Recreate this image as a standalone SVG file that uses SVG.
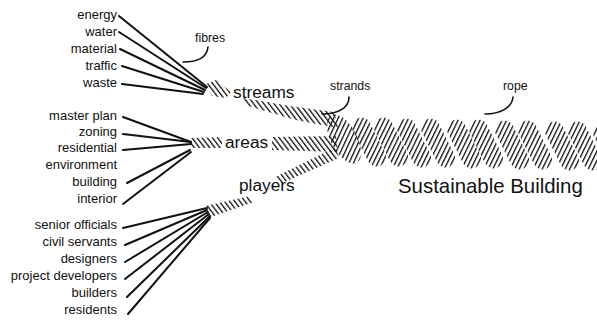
<svg xmlns="http://www.w3.org/2000/svg" width="597" height="320" viewBox="0 0 597 320">
  <style>
    .lbl { font-family: "Liberation Sans", Arial, Helvetica, sans-serif; font-size: 13px; fill: #111; text-anchor: end; }
    .grp { font-family: "Liberation Sans", Arial, Helvetica, sans-serif; font-size: 17.3px; fill: #111; }
    .note { font-family: "Liberation Sans", Arial, Helvetica, sans-serif; font-size: 12.3px; fill: #111; }
    .title { font-family: "Liberation Sans", Arial, Helvetica, sans-serif; font-size: 20.4px; fill: #111; }
    .fibre { stroke: #111; stroke-width: 2; stroke-linecap: round; fill: none; }
    .hook { stroke: #111; stroke-width: 1.6; stroke-linecap: round; fill: none; }
    .strand { fill: url(#hatch); }
    .lobe { fill: url(#hatch); }
  </style>
  <defs>
    <!-- diagonal hatching used for strands and rope -->
    <pattern id="hatch" width="4.1" height="10" patternUnits="userSpaceOnUse" patternTransform="rotate(-37)">
      <rect x="0" y="0" width="1.3" height="10" fill="#111"/>
    </pattern>
    <!-- one twisted lobe of the rope, centred on the origin -->
    <rect id="lobe" x="-26" y="-9.5" width="52" height="19" rx="9" ry="9"/>
  </defs>

  <!-- fibre labels -->
  <g id="energy"><text class="lbl" x="117" y="19">energy</text></g>
  <g id="water"><text class="lbl" x="117" y="36">water</text></g>
  <g id="material"><text class="lbl" x="117" y="53">material</text></g>
  <g id="traffic"><text class="lbl" x="117" y="70">traffic</text></g>
  <g id="waste"><text class="lbl" x="117" y="87">waste</text></g>

  <g id="master-plan"><text class="lbl" x="117" y="120">master plan</text></g>
  <g id="zoning"><text class="lbl" x="117" y="136">zoning</text></g>
  <g id="residential"><text class="lbl" x="117" y="152">residential</text></g>
  <g id="environment"><text class="lbl" x="117" y="169">environment</text></g>
  <g id="building"><text class="lbl" x="117" y="186">building</text></g>
  <g id="interior"><text class="lbl" x="117" y="203">interior</text></g>

  <g id="senior-officials"><text class="lbl" x="117" y="229">senior officials</text></g>
  <g id="civil-servants"><text class="lbl" x="117" y="246">civil servants</text></g>
  <g id="designers"><text class="lbl" x="117" y="263">designers</text></g>
  <g id="project-developers"><text class="lbl" x="117" y="280">project developers</text></g>
  <g id="builders"><text class="lbl" x="117" y="297">builders</text></g>
  <g id="residents"><text class="lbl" x="117" y="314">residents</text></g>

  <!-- fibres running into the strands -->
  <g id="connectors">
    <line class="fibre" x1="119" y1="16" x2="207" y2="87"/>
    <line class="fibre" x1="119" y1="32" x2="206" y2="88"/>
    <line class="fibre" x1="120" y1="49" x2="205" y2="90"/>
    <line class="fibre" x1="122" y1="66" x2="204" y2="92"/>
    <line class="fibre" x1="122" y1="84" x2="203" y2="94"/>

    <line class="fibre" x1="123" y1="117" x2="191" y2="142"/>
    <line class="fibre" x1="123" y1="134" x2="191" y2="142"/>
    <line class="fibre" x1="123" y1="150" x2="191" y2="144"/>
    <line class="fibre" x1="127" y1="183" x2="190" y2="150"/>
    <line class="fibre" x1="123" y1="204" x2="191" y2="152"/>

    <line class="fibre" x1="123" y1="228" x2="207" y2="208"/>
    <line class="fibre" x1="125" y1="245" x2="207" y2="210"/>
    <line class="fibre" x1="125" y1="262" x2="208" y2="212"/>
    <line class="fibre" x1="125" y1="279" x2="209" y2="214"/>
    <line class="fibre" x1="127" y1="297" x2="210" y2="216"/>
    <line class="fibre" x1="128" y1="314" x2="210" y2="218"/>
  </g>

  <!-- strand: streams -->
  <g id="streams">
    <polygon class="strand" points="206,84 216,80 231,92 226,98 212,96"/>
    <polygon class="strand" points="243,98 290,106 334,112 338,128 296,120 245,105"/>
    <text class="grp" x="233" y="98">streams</text>
  </g>

  <!-- strand: areas -->
  <g id="areas">
    <polygon class="strand" points="190,138 222,137 222,148 190,148"/>
    <polygon class="strand" points="272,137 336,136 338,152 272,150"/>
    <text class="grp" x="225" y="148">areas</text>
  </g>

  <!-- strand: players -->
  <g id="players">
    <polygon class="strand" points="205,206 250,196 254,202 208,218"/>
    <polygon class="strand" points="275,177 336,147 339,158 280,184"/>
    <text class="grp" x="239" y="191">players</text>
  </g>

  <!-- the rope: twisted lobes -->
  <g id="rope">
    <ellipse class="lobe" cx="344" cy="139" rx="27" ry="13" transform="rotate(62 344 139)"/>
    <use class="lobe" href="#lobe" transform="translate(369 142) rotate(63)"/>
    <use class="lobe" href="#lobe" transform="translate(391 142) rotate(63)"/>
    <use class="lobe" href="#lobe" transform="translate(414 143) rotate(63)"/>
    <use class="lobe" href="#lobe" transform="translate(438 143) rotate(63)"/>
    <use class="lobe" href="#lobe" transform="translate(464 144) rotate(63)"/>
    <use class="lobe" href="#lobe" transform="translate(486 144) rotate(63)"/>
    <use class="lobe" href="#lobe" transform="translate(512 145) rotate(63)"/>
    <use class="lobe" href="#lobe" transform="translate(535 145) rotate(63)"/>
    <use class="lobe" href="#lobe" transform="translate(562 146) rotate(63)"/>
    <use class="lobe" href="#lobe" transform="translate(585 146) rotate(63)"/>
    <use class="lobe" href="#lobe" transform="translate(610 147) rotate(63)"/>
  </g>

  <!-- annotations -->
  <g id="fibres-note">
    <text class="note" x="195" y="42">fibres</text>
    <path class="hook" d="M208,47 C207,57 198,62 183,62"/>
  </g>
  <g id="strands-note">
    <text class="note" x="330" y="90">strands</text>
    <path class="hook" d="M349,97 C349,108 338,114 322,114"/>
  </g>
  <g id="rope-note">
    <text class="note" x="503" y="90">rope</text>
    <path class="hook" d="M513,97 C512,108 500,114 485,114"/>
  </g>

  <g id="sustainable-building">
    <text class="title" x="398" y="193">Sustainable Building</text>
  </g>
</svg>
